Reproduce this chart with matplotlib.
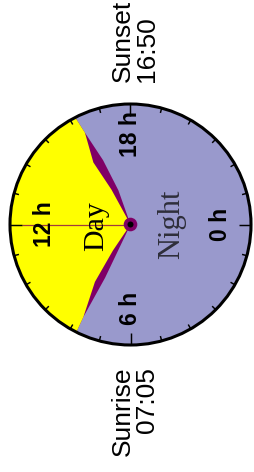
import numpy as np
import matplotlib
matplotlib.use("Agg")
import matplotlib.pyplot as plt
from matplotlib.patches import Circle, Polygon

# dial: 0 h on the right, hours run clockwise, noon on the left
tick_hours = list(range(24))
label_hours = [0, 6, 12, 18]
label_text = ["0 h", "6 h", "12 h", "18 h"]

# day (yellow) outline: hour on the dial, radius as share of the dial
day_am_h = [8.27, 8.12, 7.80, 7.78]
day_am_r = [0.26, 0.56, 0.86, 1.00]
day_pm_h = [16.18, 16.24, 15.94, 16.09]
day_pm_r = [1.00, 0.85, 0.60, 0.33]

# twilight (purple) outline
tw_am_h = [7.70, 7.70, 7.80, 7.78]
tw_am_r = [0.23, 0.49, 0.86, 1.00]
tw_pm_h = [16.18, 16.24, 16.46, 16.70]
tw_pm_r = [1.00, 0.85, 0.58, 0.30]

noon_hour = 12
sunrise_time = "07:05"
sunset_time = "16:50"

# layout (pixels)
W, H = 254, 472
cx, cy, R = 130.5, 224.5, 120.5
label_r = [0.745, 0.70, 0.71, 0.747]

night_col = "#9999cc"
day_col = "#ffff00"
tw_col = "#7f0066"


def xy(h, r):
    a = np.radians(np.asarray(h, dtype=float) * 15.0)
    r = np.asarray(r, dtype=float)
    return cx + R * r * np.cos(a), cy + R * r * np.sin(a)


def region(am_h, am_r, pm_h, pm_r):
    # center -> morning edge -> round the noon side outside the dial -> evening edge
    hh = [0] + am_h + [am_h[-1], noon_hour, pm_h[0]] + pm_h + [0]
    rr = [0] + am_r + [1.6, 1.6, 1.6] + pm_r + [0]
    x, y = xy(hh, rr)
    return np.column_stack([x, y])


fig = plt.figure(figsize=(W / 100, H / 100), dpi=100)
ax = fig.add_axes([0, 0, 1, 1])
ax.set_xlim(0, W)
ax.set_ylim(H, 0)
ax.set_aspect("equal")
ax.axis("off")

dial = Circle((cx, cy), R, facecolor=night_col, edgecolor="none", zorder=1)
ax.add_patch(dial)

tw = Polygon(region(tw_am_h, tw_am_r, tw_pm_h, tw_pm_r), closed=True,
             facecolor=tw_col, edgecolor="none", zorder=2)
ax.add_patch(tw)
tw.set_clip_path(dial)

day = Polygon(region(day_am_h, day_am_r, day_pm_h, day_pm_r), closed=True,
              facecolor=day_col, edgecolor="none", zorder=3)
ax.add_patch(day)
day.set_clip_path(dial)

# noon hand
hx, hy = xy([noon_hour, noon_hour], [0, 0.9])
ax.plot(hx, hy, color="#a03c3c", lw=0.9, zorder=4, solid_capstyle="butt")

# hour ticks
for h in tick_hours:
    inner = 1 - (12 if h % 6 == 0 else 5) / R
    tx, ty = xy([h, h], [1, inner])
    ax.plot(tx, ty, color="black", lw=1.05, zorder=5, solid_capstyle="butt")

ax.add_patch(Circle((cx, cy), R, facecolor="none", edgecolor="black", lw=2.2, zorder=6))

# center pin
ax.add_patch(Circle((cx, cy), 6.8, facecolor=tw_col, edgecolor="none", zorder=7))
ax.add_patch(Circle((cx, cy), 3.0, facecolor="black", edgecolor="none", zorder=8))

for h, t, r in zip(label_hours, label_text, label_r):
    lx, ly = xy(h, r)
    ax.text(lx, ly, t, rotation=90, ha="center", va="center", fontsize=16.5,
            fontweight="bold", family="Liberation Sans", zorder=9)

ax.text(96, 226, "Day", rotation=90, ha="center", va="center", fontsize=21.5,
        family="Liberation Serif", color="black", zorder=9)
ax.text(171.5, 224, "Night", rotation=90, ha="center", va="center", fontsize=22,
        family="Liberation Serif", color="#2e2e3a", zorder=9)

ax.text(135, 82, "Sunset\n" + sunset_time, rotation=90, ha="center", va="bottom",
        multialignment="left", fontsize=19, family="Liberation Sans",
        linespacing=1.0, zorder=9)
ax.text(135, 367, "Sunrise\n" + sunrise_time, rotation=90, ha="center", va="top",
        multialignment="right", fontsize=19, family="Liberation Sans",
        linespacing=1.0, zorder=9)

fig.savefig("out.png", dpi=100, facecolor="white")
